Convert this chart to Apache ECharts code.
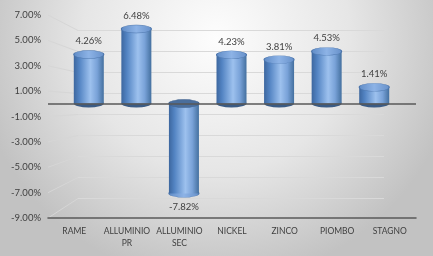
<!DOCTYPE html>
<html><head><meta charset="utf-8">
<script src="https://cdn.jsdelivr.net/npm/echarts@6/dist/echarts.min.js"></script>
<style>html,body{margin:0;padding:0;background:#fff}#c{width:433px;height:256px}</style>
</head><body><div id="c"></div>
<script>
const categories = ['RAME', 'ALLUMINIO\nPR', 'ALLUMINIO\nSEC', 'NICKEL', 'ZINCO', 'PIOMBO', 'STAGNO'];
const values = [4.26, 6.48, -7.82, 4.23, 3.81, 4.53, 1.41];
const yMin = -9, yMax = 7, yStep = 2;

const FONT = 'Lato, "Open Sans", sans-serif';
const TXT = '#404040';
const chart = echarts.init(document.getElementById('c'), null, {renderer: 'canvas'});

const posTop = values.map(v => v >= 0 ? v : '-');
const negBottom = values.map(v => v < 0 ? v : '-');
const zeroPos = values.map(v => v >= 0 ? 0 : '-');
const zeroNeg = values.map(v => v < 0 ? 0 : '-');
const pctLabel = p => p.value.toFixed(2) + '%';

const barGrad = new echarts.graphic.LinearGradient(0, 0, 1, 0, [
  {offset: 0, color: '#3d679f'}, {offset: 0.18, color: '#5283c2'},
  {offset: 0.55, color: '#9dc1ee'}, {offset: 0.78, color: '#79a2d8'},
  {offset: 1, color: '#44709f'}]);
const topGrad = new echarts.graphic.LinearGradient(0, 0, 1, 0, [
  {offset: 0, color: '#5f8bc6'}, {offset: 0.5, color: '#8db3e6'}, {offset: 1, color: '#6690c9'}]);

const option = {
  animation: false,
  backgroundColor: new echarts.graphic.RadialGradient(0.5, 0.15, 0.95, [
    {offset: 0, color: '#fdfdfd'}, {offset: 0.55, color: '#e6e6e6'}, {offset: 1, color: '#c2c2c2'}]),
  grid: [
    {left: 65, right: 35, top: 23, bottom: 49},
    {left: 48, right: 17, top: 15, bottom: 38},
    {left: 78, right: 49, top: 30.5, bottom: 57.5}
  ],
  xAxis: [
    {gridIndex: 0, type: 'category', data: categories, show: false},
    {gridIndex: 1, type: 'category', data: categories,
     axisLine: {onZero: false, lineStyle: {color: '#595959', width: 1.5}},
     axisTick: {show: false},
     axisLabel: {color: TXT, fontFamily: FONT, fontSize: 8.5, lineHeight: 12, margin: 7, interval: 0}},
    {gridIndex: 2, type: 'category', data: categories, show: false}
  ],
  yAxis: [
    {gridIndex: 0, type: 'value', min: yMin, max: yMax, interval: yStep, show: false},
    {gridIndex: 1, type: 'value', min: yMin, max: yMax, interval: yStep,
     axisLine: {show: false}, axisTick: {show: false}, splitLine: {show: false},
     axisLabel: {color: TXT, fontFamily: FONT, fontSize: 9.5, margin: 7,
                 formatter: v => v.toFixed(2) + '%'}},
    {gridIndex: 2, type: 'value', min: yMin, max: yMax, interval: yStep,
     axisLine: {show: false}, axisTick: {show: false}, axisLabel: {show: false},
     splitLine: {show: true, lineStyle: {color: '#d9d9d9', width: 1}}}
  ],
  series: [
    {type: 'line', xAxisIndex: 1, yAxisIndex: 1, data: [], silent: true,
     markLine: {silent: true, symbol: 'none', label: {show: false},
                lineStyle: {color: '#595959', width: 1.5, type: 'solid'}, data: [{yAxis: 0}]}},
    // bottom rims of positive cylinders (below zero)
    {type: 'scatter', xAxisIndex: 0, yAxisIndex: 0, data: zeroPos, z: 2,
     symbol: 'circle', symbolSize: [30, 8], itemStyle: {color: '#3a5b85', opacity: 1}},
    // bottom rim of negative cylinder
    {type: 'scatter', xAxisIndex: 0, yAxisIndex: 0, data: negBottom, z: 2,
     symbol: 'circle', symbolSize: [30, 8],
     itemStyle: {color: topGrad, borderColor: '#4f78ad', borderWidth: 0.6, opacity: 1},
     label: {show: true, position: 'bottom', distance: 4, color: TXT, fontFamily: FONT, fontSize: 9.5, formatter: pctLabel}},
    {type: 'bar', xAxisIndex: 0, yAxisIndex: 0, data: values, barWidth: 30, z: 3,
     itemStyle: {color: barGrad}},
    // top faces
    {type: 'scatter', xAxisIndex: 0, yAxisIndex: 0, data: posTop, z: 4,
     symbol: 'circle', symbolSize: [30, 8],
     itemStyle: {color: topGrad, borderColor: '#4c75ab', borderWidth: 0.6, opacity: 1},
     label: {show: true, position: 'top', distance: 4, color: TXT, fontFamily: FONT, fontSize: 9.5, formatter: pctLabel}},
    {type: 'scatter', xAxisIndex: 0, yAxisIndex: 0, data: zeroNeg, z: 4,
     symbol: 'circle', symbolSize: [30, 8],
     itemStyle: {color: '#4a6e9c', borderColor: '#3d5f8c', borderWidth: 0.6, opacity: 1}}
  ]
};
chart.setOption(option);

// slanted side-wall gridlines connecting label axis to back wall
const ticks = [];
for (let v = yMin; v <= yMax; v += yStep) ticks.push(v);
const lines = ticks.map(v => {
  const y1 = chart.convertToPixel({yAxisIndex: 1}, v);
  const y2 = chart.convertToPixel({yAxisIndex: 2}, v);
  return {type: 'line', silent: true, z: -1,
          shape: {x1: 48, y1: y1, x2: 78, y2: y2},
          style: {stroke: '#d6d6d6', lineWidth: 1}};
});
chart.setOption({graphic: lines});
</script></body></html>
